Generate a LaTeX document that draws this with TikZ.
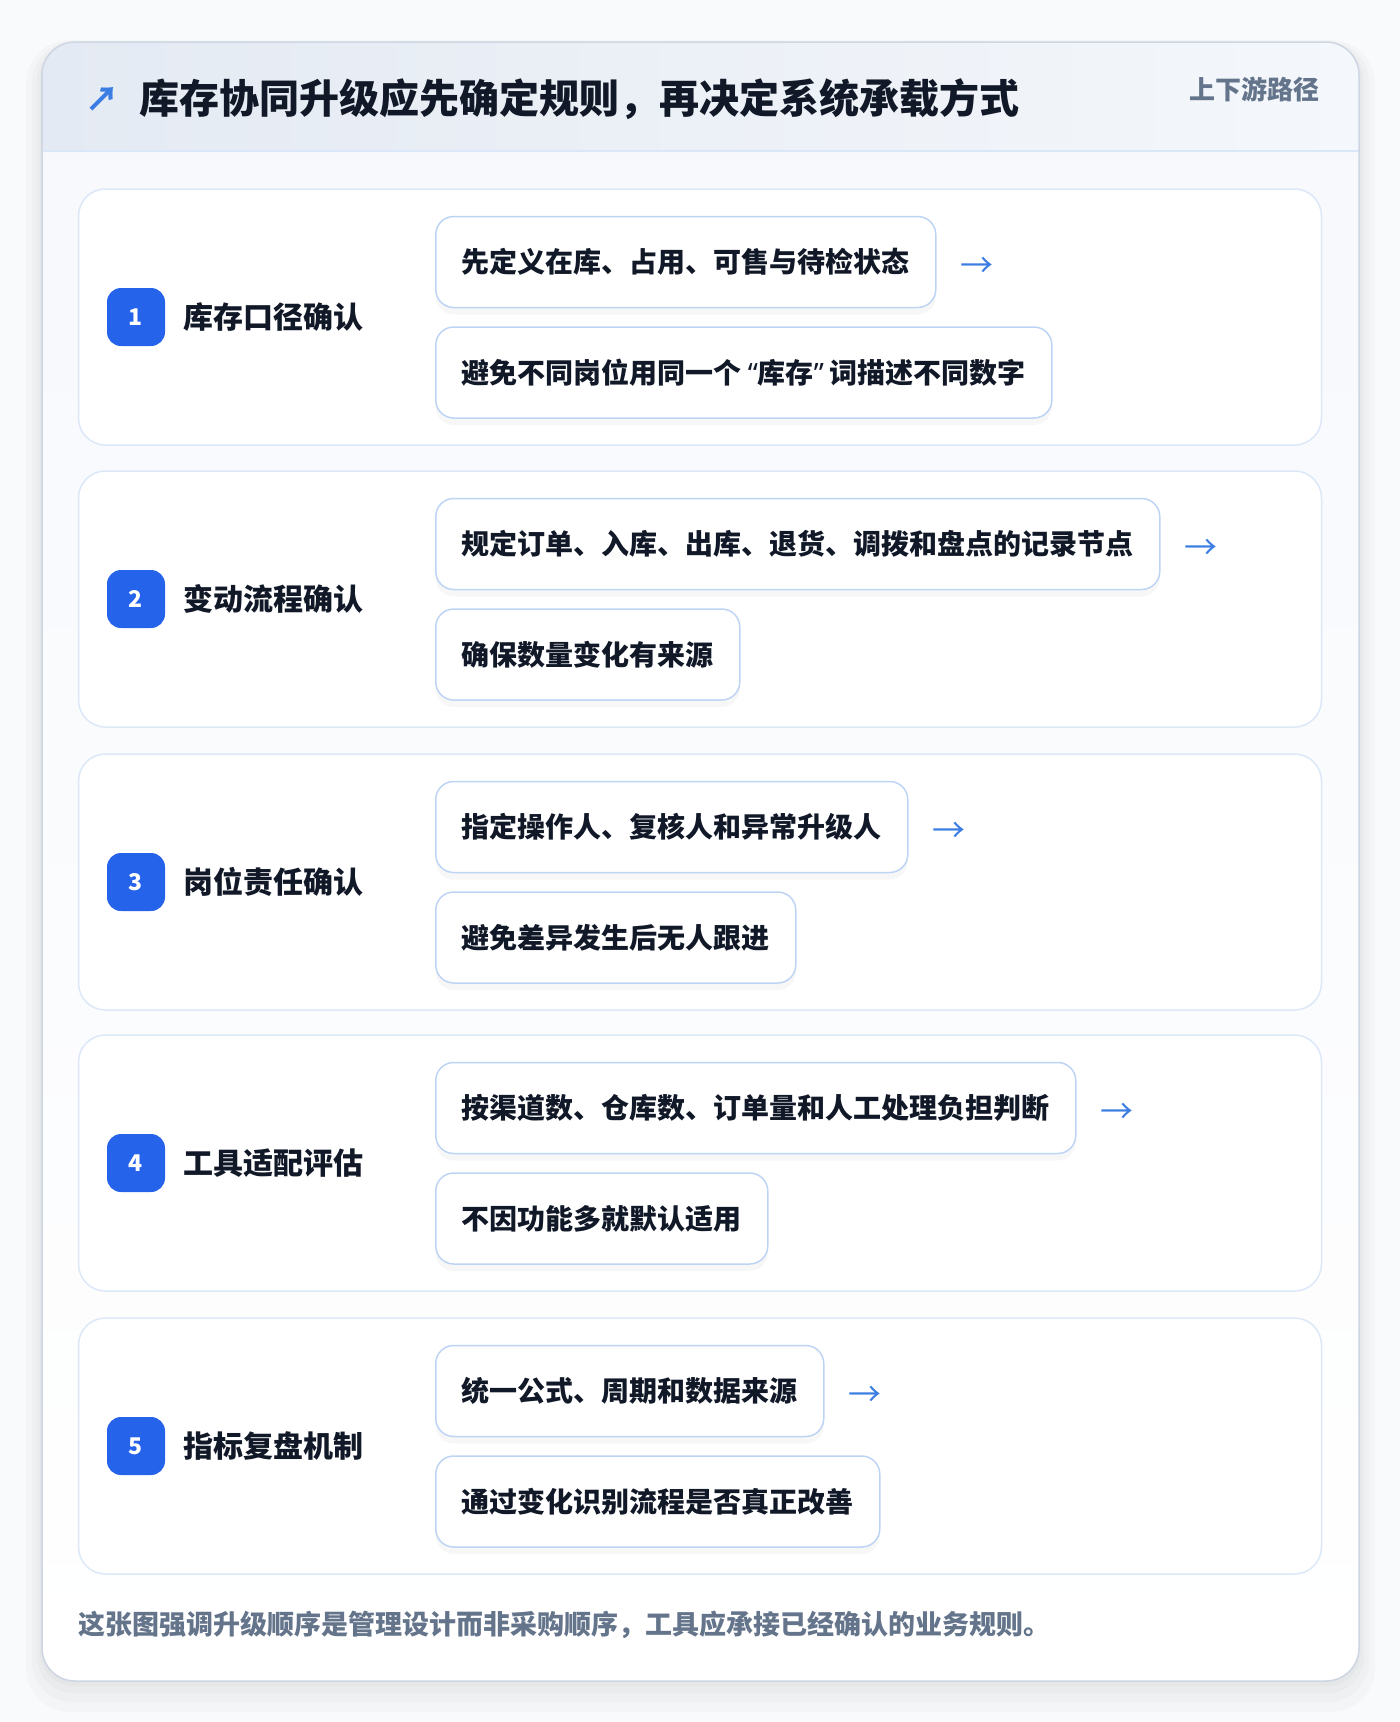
\documentclass[tikz,border=0pt]{standalone}
\usepackage{fontspec}
\setmainfont{Noto Sans CJK SC}[BoldFont={Noto Sans CJK SC Black}]
\newfontfamily\quotefont{Noto Sans}
\usetikzlibrary{positioning, shadows}
\definecolor{pagebg}{RGB}{249,250,251}
\definecolor{frameline}{RGB}{205,214,226}
\definecolor{headleft}{RGB}{228,234,243}
\definecolor{headright}{RGB}{244,247,251}
\definecolor{headline}{RGB}{218,231,248}
\definecolor{bodytop}{RGB}{246,248,252}
\definecolor{cardline}{RGB}{220,232,248}
\definecolor{itemline}{RGB}{190,212,244}
\definecolor{badgeblue}{RGB}{37,99,235}
\definecolor{darktext}{RGB}{17,24,39}
\definecolor{graytext}{RGB}{100,116,139}
\definecolor{arrowblue}{RGB}{59,125,226}
\tikzstyle{card} = [rectangle, rounded corners=27pt, minimum width=1243pt, minimum height=256pt, draw=cardline, line width=1.5pt, fill=white]
\tikzstyle{badge} = [rectangle, rounded corners=14pt, minimum width=58pt, minimum height=58pt, inner sep=0pt, fill=badgeblue, text=white, font=\fontsize{23}{26}\selectfont\bfseries]
\tikzstyle{stepname} = [inner sep=0pt, text=darktext, font=\fontsize{30}{36}\selectfont\bfseries]
\tikzstyle{itembox} = [rectangle, rounded corners=18pt, minimum height=91pt, inner xsep=26pt, draw=itemline, line width=1.5pt, fill=white, text=darktext, font=\fontsize{28}{33}\selectfont\bfseries, drop shadow={shadow xshift=0pt, shadow yshift=-7pt, opacity=0.06}]
\tikzstyle{nextmark} = [inner sep=0pt, text=arrowblue, font=\fontsize{33}{33}\selectfont]
\newcommand{\openq}{\hspace{6pt}{\quotefont\bfseries “}}
\newcommand{\closeq}{{\quotefont\bfseries ”}\hspace{6pt}}

\begin{document}
\begin{tikzpicture}[x=1pt, y=-1pt]

\fill[pagebg] (0,0) rectangle (1400,1722);
\useasboundingbox (0,0) rectangle (1400,1722);

\fill[black, opacity=0.018, rounded corners=44pt] (26,40) rectangle (1375,1712);
\fill[black, opacity=0.018, rounded corners=40pt] (32,42) rectangle (1369,1702);
\fill[black, opacity=0.02, rounded corners=36pt] (37,44) rectangle (1364,1693);
\fill[black, opacity=0.02, rounded corners=34pt] (40,44) rectangle (1361,1686);
\fill[top color=bodytop, bottom color=white, rounded corners=33pt] (42,42) rectangle (1359,1681);
\begin{scope}
\clip[rounded corners=33pt] (42,42) rectangle (1359,1681);
\fill[left color=headleft, right color=headright] (42,42) rectangle (1359,151);
\end{scope}
\draw[headline, line width=1.5pt] (42,151) -- (1359,151);
\draw[frameline, line width=1.5pt, rounded corners=33pt] (42,42) rectangle (1359,1681);

\node (icon) [text=arrowblue, inner sep=0pt, font=\fontsize{34}{34}\selectfont\bfseries] at (102,99) {↗};
\node (title) [anchor=west, inner sep=0pt, text=darktext, font=\fontsize{40}{44}\selectfont\bfseries] at (139,99) {库存协同升级应先确定规则，再决定系统承载方式};
\node (tag) [anchor=east, inner sep=0pt, text=graytext, font=\fontsize{26}{30}\selectfont\bfseries] at (1320,89) {上下游路径};

\node (card1) [card] at (700,317) {};
\node (num1) [badge] at (136,317) {1};
\node (name1) [stepname, right=18pt of num1] {库存口径确认};
\node (a1) [itembox, anchor=west] at (435,262) {先定义在库、占用、可售与待检状态};
\node (b1) [itembox, below=18pt of a1.south west, anchor=north west] {避免不同岗位用同一个\openq 库存\closeq 词描述不同数字};
\node (next1) [nextmark, right=24pt of a1, yshift=-5pt] {→};

\node (card2) [card] at (700,599) {};
\node (num2) [badge] at (136,599) {2};
\node (name2) [stepname, right=18pt of num2] {变动流程确认};
\node (a2) [itembox, anchor=west] at (435,544) {规定订单、入库、出库、退货、调拨和盘点的记录节点};
\node (b2) [itembox, below=18pt of a2.south west, anchor=north west] {确保数量变化有来源};
\node (next2) [nextmark, right=24pt of a2, yshift=-5pt] {→};

\node (card3) [card] at (700,882) {};
\node (num3) [badge] at (136,882) {3};
\node (name3) [stepname, right=18pt of num3] {岗位责任确认};
\node (a3) [itembox, anchor=west] at (435,827) {指定操作人、复核人和异常升级人};
\node (b3) [itembox, below=18pt of a3.south west, anchor=north west] {避免差异发生后无人跟进};
\node (next3) [nextmark, right=24pt of a3, yshift=-5pt] {→};

\node (card4) [card] at (700,1163) {};
\node (num4) [badge] at (136,1163) {4};
\node (name4) [stepname, right=18pt of num4] {工具适配评估};
\node (a4) [itembox, anchor=west] at (435,1108) {按渠道数、仓库数、订单量和人工处理负担判断};
\node (b4) [itembox, below=18pt of a4.south west, anchor=north west] {不因功能多就默认适用};
\node (next4) [nextmark, right=24pt of a4, yshift=-5pt] {→};

\node (card5) [card] at (700,1446) {};
\node (num5) [badge] at (136,1446) {5};
\node (name5) [stepname, right=18pt of num5] {指标复盘机制};
\node (a5) [itembox, anchor=west] at (435,1391) {统一公式、周期和数据来源};
\node (b5) [itembox, below=18pt of a5.south west, anchor=north west] {通过变化识别流程是否真正改善};
\node (next5) [nextmark, right=24pt of a5, yshift=-5pt] {→};

\node (note) [anchor=west, inner sep=0pt, text=graytext, font=\fontsize{27}{30}\selectfont\bfseries] at (78,1625) {这张图强调升级顺序是管理设计而非采购顺序，工具应承接已经确认的业务规则。};

\end{tikzpicture}
\end{document}
